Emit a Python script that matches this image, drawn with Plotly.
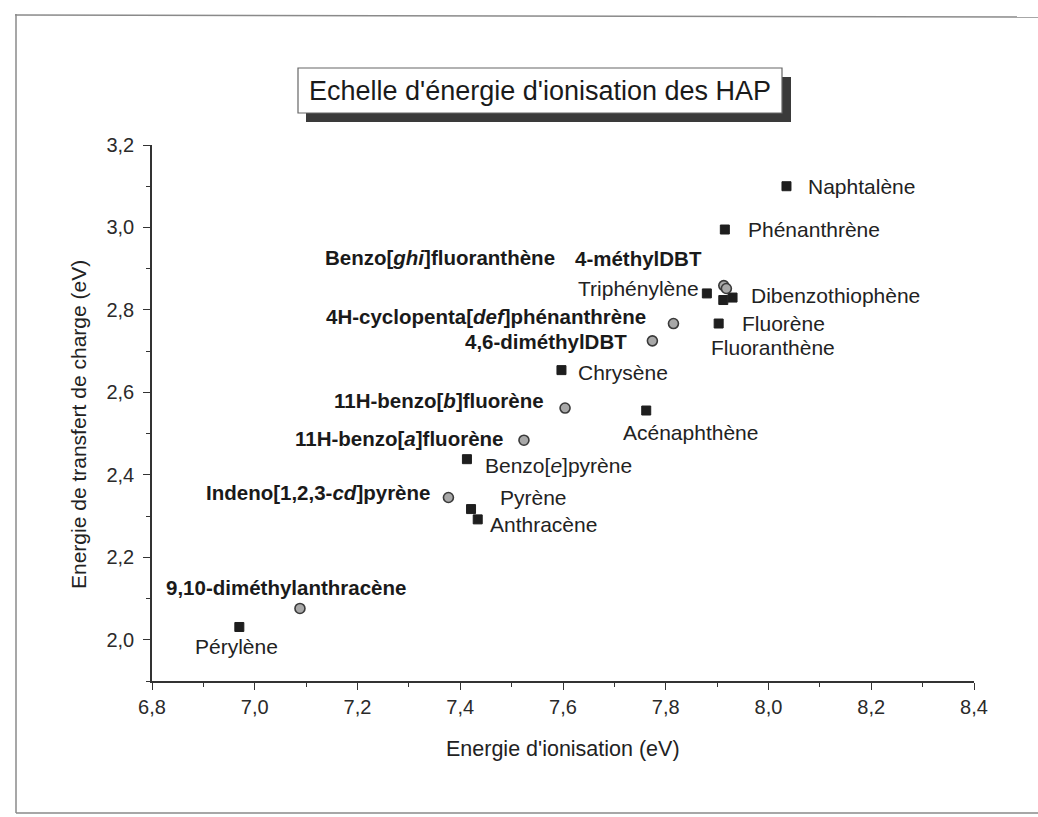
import plotly.graph_objects as go

# Data: ionisation energy (eV) vs charge-transfer energy (eV)
sq_names = ["Naphtalène", "Phénanthrène", "Triphénylène", "Dibenzothiophène", "Fluoranthène",
            "Fluorène", "Chrysène", "Acénaphthène", "Benzo[<i>e</i>]pyrène", "Pyrène",
            "Anthracène", "Pérylène"]
sq_ie = [8.035, 7.915, 7.88, 7.93, 7.912, 7.903, 7.597, 7.762, 7.413, 7.421, 7.434, 6.97]
sq_ect = [3.10, 2.995, 2.84, 2.83, 2.824, 2.767, 2.654, 2.556, 2.438, 2.317, 2.292, 2.031]

circ_names = ["4-méthylDBT", "Benzo[<i>ghi</i>]fluoranthène", "4H-cyclopenta[<i>def</i>]phénanthrène",
              "4,6-diméthylDBT", "11H-benzo[<i>b</i>]fluorène", "11H-benzo[<i>a</i>]fluorène",
              "Indeno[1,2,3-<i>cd</i>]pyrène", "9,10-diméthylanthracène"]
circ_ie = [7.913, 7.918, 7.815, 7.774, 7.604, 7.524, 7.377, 7.088]
circ_ect = [2.859, 2.852, 2.767, 2.725, 2.562, 2.484, 2.345, 2.076]

x_tickvals = [6.8, 7.0, 7.2, 7.4, 7.6, 7.8, 8.0, 8.2, 8.4]
x_ticktext = ["6,8", "7,0", "7,2", "7,4", "7,6", "7,8", "8,0", "8,2", "8,4"]
y_tickvals = [2.0, 2.2, 2.4, 2.6, 2.8, 3.0, 3.2]
y_ticktext = ["2,0", "2,2", "2,4", "2,6", "2,8", "3,0", "3,2"]

# label placement (anchor, xshift, yshift in px), styling only
sq_label_pos = {
    "Naphtalène": ("left", 20, 0),
    "Phénanthrène": ("left", 21, 0),
    "Triphénylène": ("right", -6, 5),
    "Dibenzothiophène": ("left", 16, 2),
    "Fluoranthène": ("left", -14, -47),
    "Fluorène": ("left", 21, 0),
    "Chrysène": ("left", 15, -2),
    "Acénaphthène": ("center", 44, -22),
    "Benzo[<i>e</i>]pyrène": ("left", 16, -6),
    "Pyrène": ("left", 27, 12),
    "Anthracène": ("left", 10, -5),
    "Pérylène": ("center", -3, -20),
}
circ_label_pos = {
    "4-méthylDBT": ("right", -20, 27),
    "Benzo[<i>ghi</i>]fluoranthène": ("right", -169, 31),
    "4H-cyclopenta[<i>def</i>]phénanthrène": ("right", -25, 7),
    "4,6-diméthylDBT": ("right", -23, -1),
    "11H-benzo[<i>b</i>]fluorène": ("right", -19, 8),
    "11H-benzo[<i>a</i>]fluorène": ("right", -19, 2),
    "Indeno[1,2,3-<i>cd</i>]pyrène": ("right", -16, 5),
    "9,10-diméthylanthracène": ("center", -14, 21),
}

W, H = 1038, 817
L, R, T, B = 152, 974, 145, 681  # plot area in px
FONT = "Arial, Liberation Sans, sans-serif"


def px(xp, yp):
    return (xp - L) / (R - L), (B - yp) / (B - T)


fig = go.Figure()
fig.add_trace(go.Scatter(x=sq_ie, y=sq_ect, mode="markers", text=sq_names,
                         marker=dict(symbol="square", size=9, color="#1e1e1e",
                                     line=dict(color="#1e1e1e", width=1))))
fig.add_trace(go.Scatter(x=circ_ie, y=circ_ect, mode="markers", text=circ_names,
                         marker=dict(symbol="circle", size=10, color="#a8a8a8",
                                     line=dict(color="#3a3a3a", width=1.6))))

annotations = []
for n, x, y in zip(sq_names, sq_ie, sq_ect):
    anc, dx, dy = sq_label_pos[n]
    annotations.append(dict(x=x, y=y, text=n, showarrow=False, xanchor=anc, yanchor="middle",
                            xshift=dx, yshift=dy, font=dict(size=21, color="#222", family=FONT)))
for n, x, y in zip(circ_names, circ_ie, circ_ect):
    anc, dx, dy = circ_label_pos[n]
    annotations.append(dict(x=x, y=y, text=f"<b>{n}</b>", showarrow=False, xanchor=anc,
                            yanchor="middle", xshift=dx, yshift=dy,
                            font=dict(size=20.5, color="#1a1a1a", family=FONT)))

# axis titles
ax, ay = px(563, 749)
annotations.append(dict(x=ax, y=ay, xref="paper", yref="paper", text="Energie d'ionisation (eV)",
                        showarrow=False, xanchor="center", yanchor="middle",
                        font=dict(size=21.5, color="#222", family=FONT)))
ax, ay = px(78, 425)
annotations.append(dict(x=ax, y=ay, xref="paper", yref="paper", textangle=-90,
                        text="Energie de transfert de charge (eV)", showarrow=False,
                        xanchor="center", yanchor="middle",
                        font=dict(size=21, color="#222", family=FONT)))
# title in its box
ax, ay = px(540, 91)
annotations.append(dict(x=ax, y=ay, xref="paper", yref="paper",
                        text="Echelle d'énergie d'ionisation des HAP", showarrow=False,
                        xanchor="center", yanchor="middle",
                        font=dict(size=27, color="#1a1a1a", family=FONT)))

shapes = []
# shadow then box
x0, y0 = px(306, 122)
x1, y1 = px(791, 77)
shapes.append(dict(type="rect", xref="paper", yref="paper", x0=x0, y0=y0, x1=x1, y1=y1,
                   fillcolor="#3a3a3a", line=dict(width=0), layer="below"))
x0, y0 = px(298, 113)
x1, y1 = px(782, 68)
shapes.append(dict(type="rect", xref="paper", yref="paper", x0=x0, y0=y0, x1=x1, y1=y1,
                   fillcolor="white", line=dict(color="#666", width=1.2), layer="below"))
# page frame
for (a, b, c, d) in [(15, 15, 1040, 17), (16, 14, 16, 813), (16, 813, 1040, 813)]:
    x0, y0 = px(a, b)
    x1, y1 = px(c, d)
    shapes.append(dict(type="line", xref="paper", yref="paper", x0=x0, y0=y0, x1=x1, y1=y1,
                       line=dict(color="#8a8a8a", width=1.5), layer="below"))

axis_common = dict(showline=True, linecolor="#333", linewidth=1.5, ticks="outside", ticklen=7,
                   tickwidth=1.3, tickcolor="#333", showgrid=False, zeroline=False,
                   tickfont=dict(size=20, color="#2a2a2a", family=FONT),
                   minor=dict(ticks="outside", ticklen=4, tickcolor="#333", tickwidth=1.2))

fig.update_layout(
    width=W, height=H, autosize=False,
    margin=dict(l=L, r=W - R, t=T, b=H - B),
    paper_bgcolor="white", plot_bgcolor="rgba(0,0,0,0)",
    showlegend=False,
    xaxis=dict(range=[6.8, 8.4], tickmode="array", tickvals=x_tickvals, ticktext=x_ticktext,
               minor_dtick=0.1, **axis_common),
    yaxis=dict(range=[1.9, 3.2], tickmode="array", tickvals=y_tickvals, ticktext=y_ticktext,
               minor_dtick=0.1, ticklabelstandoff=5, **axis_common),
    annotations=annotations,
    shapes=shapes,
)

fig.write_html("out.html", config={"displayModeBar": False},
               post_script="document.body.style.margin='0';")
